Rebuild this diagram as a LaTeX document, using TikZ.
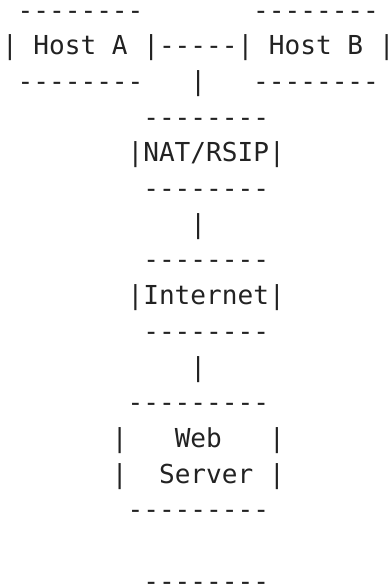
\documentclass[tikz,border=0pt]{standalone}
\usepackage{fontspec}
\newfontfamily\asciifont{DejaVu Sans Mono}
\definecolor{ink}{RGB}{34,34,34}

\begin{document}
\begin{tikzpicture}[x=15.7pt,y=-35.67pt,
    txt/.style={anchor=base west,inner sep=0pt,outer sep=0pt,text=ink,
        font=\asciifont\fontsize{26.1pt}{35.67pt}\selectfont}]
\useasboundingbox (0pt,0pt) rectangle (390pt,-586pt);
\begin{scope}[shift={(2pt,-19.3pt)}]
% the two hosts
\node[txt] (topA) at (1,0) {--------};
\node[txt] (topB) at (16,0) {--------};
\node[txt] (hostA) at (0,1) {| Host A |};
\node[txt] (wire) at (10,1) {-----};
\node[txt] (hostB) at (15,1) {| Host B |};
\node[txt] (botA) at (1,2) {--------};
\node[txt] (drop1) at (12,2) {|};
\node[txt] (botB) at (16,2) {--------};
% NAT/RSIP
\node[txt] (nattop) at (9,3) {--------};
\node[txt] (nat) at (8,4) {|NAT/RSIP|};
\node[txt] (natbot) at (9,5) {--------};
\node[txt] (drop2) at (12,6) {|};
% Internet
\node[txt] (inettop) at (9,7) {--------};
\node[txt] (inet) at (8,8) {|Internet|};
\node[txt] (inetbot) at (9,9) {--------};
\node[txt] (drop3) at (12,10) {|};
% web server
\node[txt] (webtop) at (8,11) {---------};
\node[txt] (web1) at (7,12) {|~~~Web~~~|};
\node[txt] (web2) at (7,13) {|~~Server~|};
\node[txt] (webbot) at (8,14) {---------};
\node[txt] (last) at (9,16) {--------};
\end{scope}
\end{tikzpicture}
\end{document}
